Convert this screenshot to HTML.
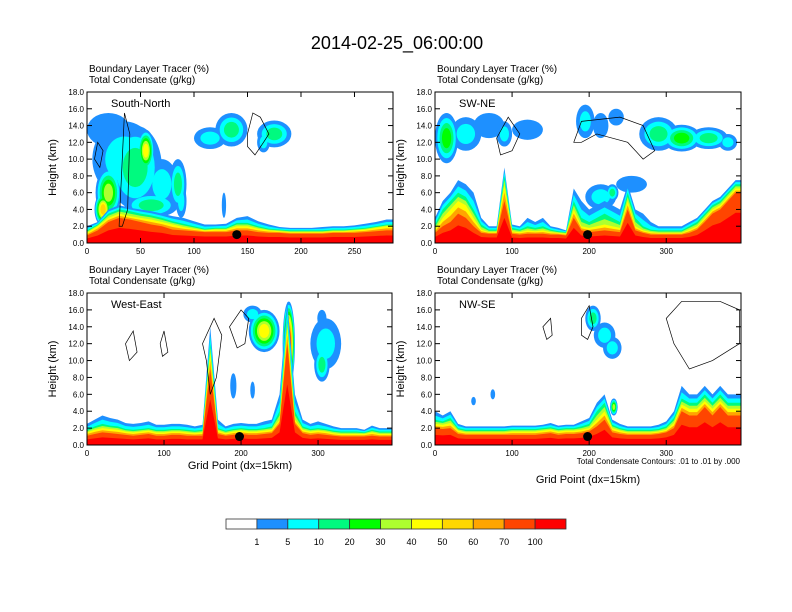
<!DOCTYPE html>
<html><head><meta charset="utf-8"><style>
html,body{margin:0;padding:0;background:#fff}
svg{display:block;font-family:"Liberation Sans",sans-serif}
</style></head><body>
<svg id="fig" width="792" height="612" viewBox="0 0 792 612">
<text x="397" y="49" font-size="18" text-anchor="middle">2014-02-25_06:00:00</text>
</svg>
<script>
// ---- data ----
const colorLevels=['1','5','10','20','30','40','50','60','70','100'];
const COLORS=['#ffffff','#1e90ff','#00ffff','#00fa7f','#00ff00','#adff2f','#ffff00','#ffd700','#ffa500','#ff4500','#ff0000'];
const yTicks=[0,2,4,6,8,10,12,14,16,18];
const panelTitles=['South-North','SW-NE','West-East','NW-SE'];
const xTicksP1=[0,50,100,150,200,250];
const xTicksP2=[0,100,200,300];
// surface layer tops (km) every 10 grid points
const p1Blue=[2.0,2.5,4.0,4.5,4.2,4.0,3.8,3.5,3.2,3.0,2.6,2.2,2.2,2.3,3.0,3.2,2.6,2.2,1.9,1.8,1.8,1.8,1.9,2.0,2.0,2.1,2.3,2.5,2.8];
const p1Green=[1.5,2.2,3.5,4.0,3.8,3.5,3.3,3.0,2.6,2.3,2.0,1.7,1.8,1.8,2.4,2.4,2.0,1.7,1.6,1.5,1.5,1.5,1.5,1.6,1.6,1.7,1.8,2.0,2.2];
const p1Yellow=[1.2,2.0,3.0,3.5,3.2,3.0,2.8,2.5,2.2,1.9,1.7,1.5,1.6,1.6,2.0,2.0,1.7,1.5,1.4,1.3,1.3,1.3,1.3,1.4,1.4,1.5,1.6,1.8,2.0];
const p1Red=[0.9,1.5,2.5,3.0,2.8,2.5,2.2,2.0,1.6,1.5,1.4,1.3,1.3,1.3,1.5,1.5,1.3,1.2,1.2,1.1,1.1,1.1,1.1,1.2,1.2,1.2,1.3,1.4,1.5];
const p2Blue=[3,5,6,7.5,7,6,3,2,2,9,2.2,2,3,2.5,3,2,1.8,1.5,6.5,5,4,4.5,5,4.5,4,7,4,3.5,2.5,2,2,2,2,2.5,3,4,5,5.5,6.5,7.5];
const p2Green=[2.2,4,5,6,5.5,4,2.2,1.6,1.6,8,1.8,1.6,2,1.8,2,1.6,1.4,1.3,5,3,2.5,3,3.5,3,2.5,6,3,2,1.6,1.5,1.5,1.5,1.5,2,2.5,3.5,4.5,5,6,7];
const p2Yellow=[1.6,3,4,5,4.5,3,1.6,1.3,1.3,7,1.4,1.3,1.5,1.4,1.5,1.3,1.2,1.1,4,2,1.8,2,2.2,2,1.8,5,2,1.5,1.3,1.2,1.2,1.2,1.2,1.6,2,3,4,4.5,5.5,6.5];
const p2Red=[1.2,2,2.5,3.5,3,2,1.2,1.1,1.1,5,1.1,1,1.1,1.1,1.1,1,1,0.9,3,1.5,1.3,1.4,1.5,1.4,1.3,4,1.5,1.2,1,1,1,1,1,1.2,1.6,2.5,3.5,4,5,6];
const p3Blue=[2.5,3,3.5,3.2,3,2.6,2.5,2.6,2.8,2.4,2.4,2.5,2.5,2.4,2.2,2.4,14,3,2.2,2.5,2.6,2.5,2.5,2.8,3,6,17,6,3,2.5,2.8,2.5,2.2,2,2,2,1.8,2.3,2,2];
const p3Green=[1.8,2.2,2.5,2.3,2.2,1.9,1.8,1.9,2,1.8,1.8,1.9,1.9,1.8,1.7,1.8,12,2,1.7,1.9,2,1.9,1.9,2,2.2,4,15,4,2.2,1.9,2,1.9,1.7,1.6,1.6,1.6,1.5,1.8,1.6,1.6];
const p3Yellow=[1.5,1.8,2,1.9,1.8,1.6,1.5,1.6,1.7,1.5,1.5,1.6,1.6,1.5,1.4,1.5,11,1.7,1.4,1.6,1.7,1.6,1.6,1.7,1.8,3,14,3,1.8,1.6,1.7,1.6,1.4,1.3,1.3,1.3,1.3,1.5,1.3,1.3];
const p3Red=[1.1,1.3,1.5,1.4,1.3,1.2,1.1,1.2,1.3,1.1,1.1,1.2,1.2,1.1,1.1,1.1,9,1.3,1.1,1.2,1.3,1.2,1.2,1.3,1.4,2.5,12,2.5,1.4,1.2,1.3,1.2,1.1,1,1,1,1,1.1,1,1];
const p4Blue=[4,3.5,4,2.5,2.2,2.2,2.2,2.2,2.2,2.2,2.3,2.3,2.3,2.3,2.4,2.6,2.3,2.4,2.4,2.8,3.2,5,6,3,2.5,2.2,2.2,2.2,2.2,2.4,2.8,4,7,6,6,7,6,7,6,6];
const p4Green=[3,2.8,3.2,2,1.8,1.8,1.8,1.8,1.8,1.8,1.9,1.9,1.9,1.9,2,2.1,1.9,2,2,2.2,2.5,4,5,2.4,2,1.8,1.8,1.8,1.8,1.9,2.2,3.2,5.5,5,5,6,5,6,5,5];
const p4Yellow=[2.5,2.4,2.6,1.7,1.5,1.5,1.5,1.5,1.5,1.5,1.6,1.6,1.6,1.6,1.7,1.8,1.6,1.7,1.7,1.8,2,3,4,2,1.7,1.5,1.5,1.5,1.5,1.6,1.8,2.6,4.8,4.3,4.3,5.2,4.3,5.2,4.3,4.3];
const p4Red=[2,1.9,2,1.3,1.2,1.2,1.2,1.2,1.2,1.2,1.2,1.2,1.2,1.2,1.3,1.4,1.2,1.3,1.3,1.4,1.6,2.2,3,1.5,1.3,1.2,1.2,1.2,1.2,1.3,1.5,2,4,3.5,3.5,4.5,3.5,4.5,3.5,3.5];
// cloud blobs: [grid x, height km, half-width grid, half-height km, max level]
const p1Blobs=[[20,13.5,20,2,1],[35,10,30,4.5,2],[45,9,25,5,3],[60,4.5,25,1.5,3],[70,7,15,3,2],[85,7,8,3,3],[88,5,5,2,2],[55,11,8,2.5,6],[20,6,12,3,5],[15,4,8,2,7],[115,12.5,15,1.3,2],[135,13.5,15,2,3],[165,12,6,1.2,2],[175,13,16,1.6,3],[128,4.5,2,1.5,1]];
const p2Blobs=[[15,12.5,15,3,4],[40,13,20,2,2],[70,14,20,1.5,1],[90,13,10,1.5,2],[120,13.5,20,1.2,1],[195,14.5,12,2,2],[215,14,10,1.5,1],[235,15,10,1,1],[290,13,25,2,3],[320,12.5,25,1.6,4],[355,12.5,25,1.3,3],[380,12,12,1,2],[255,7,20,1,1],[215,5.5,20,1.5,2],[230,6,8,1,3]];
const p3Blobs=[[230,13.5,20,2.5,6],[215,15.5,12,1,2],[310,12,20,3,2],[305,9.5,10,2,3],[305,15,6,1,1],[190,7,4,1.5,1],[215,6.5,3,1,1],[262,12,8,5,10],[260,6,8,2.5,7]];
const p4Blobs=[[205,15,10,1.5,3],[220,13,14,1.5,2],[230,11.5,12,1.3,2],[232,4.5,5,1,5],[50,5.2,3,0.5,1],[75,6,3,0.6,1]];
// condensate contours: [x,km] point lists
const p1Contours=[[[150,13],[155,15.5],[162,15],[170,13],[165,12],[157,10.5],[150,11.5]],[[30,2],[35,15.5],[40,13],[38,4],[33,2]],[[10,12],[15,11],[12,9],[7,10]]];
const p2Contours=[[[180,12],[190,14.5],[240,15],[270,14],[285,11],[270,10],[250,12],[210,13],[190,12]],[[80,12.5],[95,15],[110,13],[100,11],[85,10.5]]];
const p3Contours=[[[150,12],[165,15],[175,13],[168,8],[160,6],[155,10]],[[185,14],[200,16],[210,15],[205,12],[195,11.5]],[[50,12],[60,13.5],[65,11],[55,10]],[[95,12],[100,13.5],[105,11],[98,10.5]]];
const p4Contours=[[[300,15],[320,17],[370,17],[395,16],[395,12],[360,10],[330,9],[310,12]],[[140,14],[150,15],[152,13],[145,12.5]],[[190,15],[200,16.5],[205,14],[198,12.5],[190,13]]];
const dots=[[140,1],[198,1],[198,1],[198,1]];
// ---- drawing ----
const NS='http://www.w3.org/2000/svg';
const svg=document.getElementById('fig');
function mk(tag,attrs,parent){const e=document.createElementNS(NS,tag);for(const k in attrs)e.setAttribute(k,attrs[k]);(parent||svg).appendChild(e);return e;}
const panels=[
 {x0:87,y0:92,x1:393,y1:243,xmax:286,xt:xTicksP1,bl:p1Blue,gr:p1Green,ye:p1Yellow,re:p1Red,blobs:p1Blobs,ct:p1Contours},
 {x0:435,y0:92,x1:741,y1:243,xmax:397,xt:xTicksP2,bl:p2Blue,gr:p2Green,ye:p2Yellow,re:p2Red,blobs:p2Blobs,ct:p2Contours},
 {x0:87,y0:293,x1:392,y1:445,xmax:396,xt:xTicksP2,bl:p3Blue,gr:p3Green,ye:p3Yellow,re:p3Red,blobs:p3Blobs,ct:p3Contours},
 {x0:435,y0:293,x1:741,y1:445,xmax:397,xt:xTicksP2,bl:p4Blue,gr:p4Green,ye:p4Yellow,re:p4Red,blobs:p4Blobs,ct:p4Contours}];
panels.forEach((p,i)=>{
 const sx=v=>p.x0+(v/p.xmax)*(p.x1-p.x0);
 const sy=v=>p.y1-(v/18)*(p.y1-p.y0);
 const g=mk('g',{});
 
 
 const cp=mk('clipPath',{id:'cp'+i},g);
 mk('rect',{x:p.x0,y:p.y0,width:p.x1-p.x0,height:p.y1-p.y0},cp);
 const pg=mk('g',{'clip-path':'url(#cp'+i+')'},g);
 // blobs: draw each level across all blobs so lower levels stay beneath higher ones
 for(let k=1;k<=10;k++){
  p.blobs.forEach(b=>{
   if(k>b[4])return;
   const f=1-(k-1)/b[4]*0.8;
   const el=mk('ellipse',{cx:sx(b[0]),cy:sy(b[1]),rx:(sx(b[2])-sx(0))*f,ry:(sy(0)-sy(b[3]))*f,fill:COLORS[k]},pg);
   
   
  });
 }
 // surface bands
 const bands=[[j=>p.bl[j],1],[j=>(p.bl[j]+p.gr[j])/2,2],[j=>p.gr[j],3],[j=>(p.gr[j]+p.ye[j])/2,5],[j=>p.ye[j],6],[j=>(p.ye[j]+p.re[j])/2,8],[j=>p.re[j],9],[j=>p.re[j]*0.6,10]];
 bands.forEach(b=>{
  let pts=[sx(0)+','+sy(0)];
  for(let j=0;j<p.bl.length;j++)pts.push(sx(j*10)+','+sy(b[0](j)));
  pts.push(sx((p.bl.length-1)*10+10)+','+sy(b[0](p.bl.length-1)));
  pts.push(sx((p.bl.length-1)*10+10)+','+sy(0));
  const el=mk('polygon',{points:pts.join(' '),fill:COLORS[b[1]]},pg);
  
  
 });
 // contours
 p.ct.forEach(c=>{
  const el=mk('polygon',{points:c.map(q=>sx(q[0])+','+sy(q[1])).join(' '),fill:'none',stroke:'#000','stroke-width':0.7},pg);
  
  
 });
 const d=mk('circle',{cx:sx(dots[i][0]),cy:sy(dots[i][1]),r:4.5,fill:'#000'},pg);
 
 
 // frame
 mk('rect',{x:p.x0,y:p.y0,width:p.x1-p.x0,height:p.y1-p.y0,fill:'none',stroke:'#000','stroke-width':1},g);
 yTicks.forEach(t=>{
  mk('line',{x1:p.x0,x2:p.x0+5,y1:sy(t),y2:sy(t),stroke:'#000'},g);
  mk('line',{x1:p.x1,x2:p.x1-5,y1:sy(t),y2:sy(t),stroke:'#000'},g);
  const tl=mk('text',{x:p.x0-3,y:sy(t)+3,'font-size':8,'text-anchor':'end'},g);
  tl.textContent=t.toFixed(1);
  
  
 });
 p.xt.forEach(t=>{
  mk('line',{x1:sx(t),x2:sx(t),y1:p.y1,y2:p.y1-5,stroke:'#000'},g);
  mk('line',{x1:sx(t),x2:sx(t),y1:p.y0,y2:p.y0+5,stroke:'#000'},g);
  const tl=mk('text',{x:sx(t),y:p.y1+11,'font-size':8,'text-anchor':'middle'},g);
  tl.textContent=t;
  
  
 });
 const yl=mk('text',{x:0,y:0,'font-size':11,'text-anchor':'middle',transform:'translate('+(p.x0-31)+','+((p.y0+p.y1)/2)+') rotate(-90)'},g);
 yl.textContent='Height (km)';
 
 
 const h1=mk('text',{x:p.x0+2,y:p.y0-20,'font-size':10},g);
 h1.textContent='Boundary Layer Tracer   (%)';
 
 
 const h2=mk('text',{x:p.x0+2,y:p.y0-9,'font-size':10},g);
 h2.textContent='Total Condensate   (g/kg)';
 
 
 const pl=mk('text',{x:p.x0+24,y:p.y0+15,'font-size':11},g);
 pl.textContent=panelTitles[i];
 
 
});
// x-axis titles and footnote
let t=mk('text',{x:240,y:469,'font-size':11,'text-anchor':'middle'});
t.textContent='Grid Point (dx=15km)';


t=mk('text',{x:588,y:483,'font-size':11,'text-anchor':'middle'});
t.textContent='Grid Point (dx=15km)';


t=mk('text',{x:740,y:464,'font-size':8,'text-anchor':'end'});
t.textContent='Total Condensate Contours: .01 to .01 by .000';


// colorbar
const cbX=226,cbW=340/11;
COLORS.forEach((c,i)=>{
 const r=mk('rect',{x:cbX+i*cbW,y:519,width:cbW,height:10,fill:c,stroke:'#333','stroke-width':0.8});
 
 
});
colorLevels.forEach((l,i)=>{
 const tx=mk('text',{x:cbX+(i+1)*cbW,y:545,'font-size':9,'text-anchor':'middle'});
 tx.textContent=l;
 
 
});
</script>
</body></html>
